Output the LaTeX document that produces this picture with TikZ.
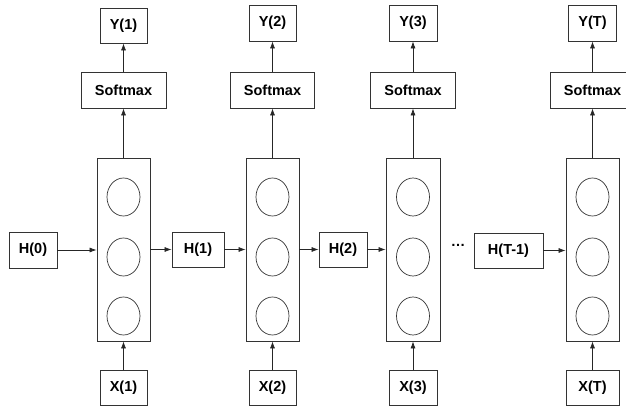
\documentclass[tikz,border=0pt]{standalone}
\usepackage{fontspec}
\setmainfont{Liberation Sans}
\usetikzlibrary{arrows.meta}
\begin{document}
\begin{tikzpicture}[x=1pt,y=-1pt,
  bx/.style={draw=black!80,line width=0.8pt,inner sep=0pt,font=\fontsize{14.5}{15}\selectfont\bfseries},
  cell/.style={draw=black!80,line width=0.8pt,inner sep=0pt},
  arr/.style={draw=black!85,line width=0.7pt,-{Latex[length=7pt,width=5pt]}}]
\useasboundingbox (0,0) rectangle (626,406);
% RNN cells
\node[cell,minimum width=53pt,minimum height=183pt] (c1) at (123.5,249.5) {};
\node[cell,minimum width=53pt,minimum height=183pt] (c2) at (272.5,249.5) {};
\node[cell,minimum width=54pt,minimum height=183pt] (c3) at (413,249.5) {};
\node[cell,minimum width=53pt,minimum height=183pt] (c4) at (592.5,249.5) {};
% units
\foreach \c/\x in {1/123.5,2/272.5,3/413,4/592.5}{
  \draw[black!80,line width=0.7pt] (\x,197) ellipse (16.5pt and 19pt);
  \draw[black!80,line width=0.7pt] (\x,257) ellipse (16.5pt and 19pt);
  \draw[black!80,line width=0.7pt] (\x,316) ellipse (16.5pt and 19pt);
}
% outputs
\node[bx,minimum width=47pt,minimum height=35pt] (y1) at (123.5,25.5) {Y(1)};
\node[bx,minimum width=47pt,minimum height=36pt] (y2) at (272.5,23) {Y(2)};
\node[bx,minimum width=48pt,minimum height=36pt] (y3) at (413,23) {Y(3)};
\node[bx,minimum width=48pt,minimum height=36pt] (y4) at (592.5,23) {Y(T)};
% softmax
\node[bx,minimum width=85pt,minimum height=36pt] (s1) at (123.5,90) {Softmax\hspace{8pt}};
\node[bx,minimum width=84pt,minimum height=36pt] (s2) at (272.5,90) {Softmax\hspace{8pt}};
\node[bx,minimum width=85pt,minimum height=36pt] (s3) at (413,90) {Softmax\hspace{8pt}};
\node[bx,minimum width=85pt,minimum height=36pt] (s4) at (592.5,90) {Softmax\hspace{8pt}};
% inputs
\node[bx,minimum width=47pt,minimum height=35pt] (x1) at (123.5,387.5) {X(1)};
\node[bx,minimum width=47pt,minimum height=35pt] (x2) at (272.5,387.5) {X(2)};
\node[bx,minimum width=48pt,minimum height=35pt] (x3) at (413,387.5) {X(3)};
\node[bx,minimum width=53pt,minimum height=35pt] (x4) at (592.5,387.5) {X(T)};
% hidden states
\node[bx,minimum width=48pt,minimum height=36pt] (h0) at (33,250) {H(0)};
\node[bx,minimum width=52pt,minimum height=35pt] (h1) at (198,249.5) {H(1)};
\node[bx,minimum width=48pt,minimum height=35pt] (h2) at (343,249.5) {H(2)};
\node[bx,minimum width=69pt,minimum height=35pt] (h3) at (508.5,250.5) {H(T-1)\hspace{8pt}};
\node[font=\fontsize{14.5}{15}\selectfont\bfseries,inner sep=0pt] (dots) at (458,245) {…};
% vertical arrows
\foreach \i in {1,2,3,4}{
  \draw[arr] (x\i) -- (c\i);
  \draw[arr] (c\i) -- (s\i);
  \draw[arr] (s\i) -- (y\i);
}
% horizontal arrows
\draw[arr] (h0.east) -- (c1.west |- h0.east);
\draw[arr] (c1.east |- h1.west) -- (h1.west);
\draw[arr] (h1.east) -- (c2.west |- h1.east);
\draw[arr] (c2.east |- h2.west) -- (h2.west);
\draw[arr] (h2.east) -- (c3.west |- h2.east);
\draw[arr] (h3.east) -- (c4.west |- h3.east);
\end{tikzpicture}
\end{document}
